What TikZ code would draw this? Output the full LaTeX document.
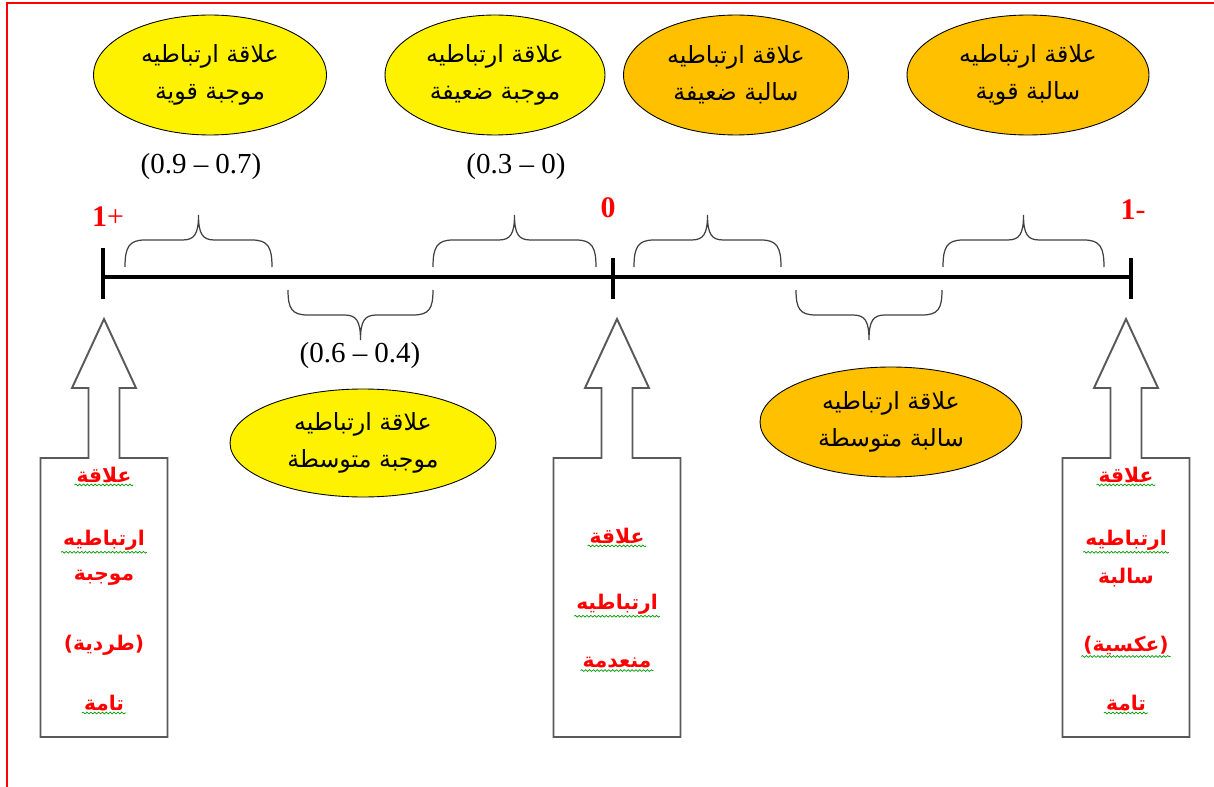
\documentclass[tikz,border=0pt]{standalone}
\usepackage{fontspec}
\setmainfont{Liberation Serif}
\newfontfamily\arabicfont[Script=Arabic]{DejaVu Sans}
\TeXXeTstate=1
\usetikzlibrary{shapes.geometric}
\usetikzlibrary{decorations.pathmorphing}

\definecolor{amber}{RGB}{255,192,0}
\newcommand{\artext}[1]{\beginR #1\endR}

\begin{document}
\begin{tikzpicture}[
                x={(0.02cm,0cm)}, y={(0cm,-0.02cm)},
                bubble/.style={ellipse, draw=black, line width=0.5pt, inner sep=0pt, align=center,
                    font=\arabicfont\fontsize{13.5}{21}\selectfont},
                interval/.style={font=\fontsize{16.5}{16.5}\selectfont},
                endlabel/.style={text=red, font=\fontsize{17}{17}\selectfont},
                curly/.style={draw=black!75, line width=0.7pt},
                axis/.style={line width=2pt},
                callout/.style={draw=black!65, line width=1.1pt, line join=miter},
                redword/.style={text=red, inner sep=1pt, font=\arabicfont\bfseries\fontsize{11.5}{11.5}\selectfont},
                squiggle/.style={draw=green!60!black, line width=0.4pt, decorate,
                    decoration={snake, amplitude=0.5pt, segment length=2.2pt}} ]

            \useasboundingbox (0,0) rectangle (1214,787);
            \draw[red, line width=0.8pt] (7,787) -- (7,3) -- (1214,3);

            % the line from +1 to -1
            \coordinate (pos) at (103,277);
            \coordinate (zero) at (613,277);
            \coordinate (neg) at (1131,277);
            \draw[axis] (pos) -- (neg);
            \foreach \x/\t in {103/248, 613/258, 1131/258} {
                    \draw[axis] (\x,\t) -- (\x,299);
                }

            \node[endlabel] (plusone) at (108,217) {\textbf{1}+};
            \node[endlabel] (nought) at (608,208) {\textbf{0}};
            \node[endlabel] (minusone) at (1133,210) {\textbf{1}-};

            % braces over and under the line
            \foreach \a/\b in {125/272, 433/596, 634/781, 943/1104} {
                    \pgfmathsetmacro{\m}{(\a+\b)/2}
                    \draw[curly] (\a,267) .. controls (\a,247) and (\a+4,240) .. (\a+20,240)
                    -- (\m-16,240) .. controls (\m-4,240) and (\m,234) .. (\m,215)
                    .. controls (\m,234) and (\m+4,240) .. (\m+16,240)
                    -- (\b-20,240) .. controls (\b-4,240) and (\b,247) .. (\b,267);
                }
            \foreach \a/\b in {288/433, 796/942} {
                    \pgfmathsetmacro{\m}{(\a+\b)/2}
                    \draw[curly] (\a,290) .. controls (\a,309) and (\a+4,315) .. (\a+20,315)
                    -- (\m-16,315) .. controls (\m-4,315) and (\m,321) .. (\m,340)
                    .. controls (\m,321) and (\m+4,315) .. (\m+16,315)
                    -- (\b-20,315) .. controls (\b-4,315) and (\b,309) .. (\b,290);
                }

            \node[interval] (strong) at (201,167) {(0.9 -- 0.7)};
            \node[interval] (weak) at (516,167) {(0.3 -- 0)};
            \node[interval] (medium) at (360,356) {(0.6 -- 0.4)};

            \node[bubble, fill=yellow, minimum width=4.66cm, minimum height=2.4cm] (posstrong) at (210,75)
                {\artext{علاقة ارتباطيه}\\\artext{موجبة قوية}};
            \node[bubble, fill=yellow, minimum width=4.4cm, minimum height=2.4cm] (posweak) at (495,75)
                {\artext{علاقة ارتباطيه}\\\artext{موجبة ضعيفة}};
            \node[bubble, fill=amber, minimum width=4.5cm, minimum height=2.4cm] (negweak) at (736,75)
                {\artext{علاقة ارتباطيه}\\\artext{سالبة ضعيفة}};
            \node[bubble, fill=amber, minimum width=4.84cm, minimum height=2.4cm] (negstrong) at (1028,75)
                {\artext{علاقة ارتباطيه}\\\artext{سالبة قوية}};
            \node[bubble, fill=yellow, minimum width=5.32cm, minimum height=2.16cm] (posmedium) at (363,443)
                {\artext{علاقة ارتباطيه}\\\artext{موجبة متوسطة}};
            \node[bubble, fill=amber, minimum width=5.24cm, minimum height=2.2cm] (negmedium) at (891,422)
                {\artext{علاقة ارتباطيه}\\\artext{سالبة متوسطة}};

            % block arrows pointing at +1, 0 and -1
            \foreach \cx in {104, 617, 1126} {
                    \draw[callout] (\cx-63.5,737) -- (\cx-63.5,458) -- (\cx-15.5,458) -- (\cx-15.5,388)
                    -- (\cx-32,388) -- (\cx,319) -- (\cx+32,388) -- (\cx+15.5,388) -- (\cx+15.5,458)
                    -- (\cx+63.5,458) -- (\cx+63.5,737) -- cycle;
                }

            \node[redword] (pa) at (104,475) {علاقة};
            \node[redword] (pb) at (104,540) {ارتباطيه};
            \node[redword] (pc) at (104,578) {موجبة};
            \node[redword] (pd) at (104,645) {(طردية)};
            \node[redword] (pe) at (104,703) {تامة};

            \node[redword] (za) at (617,536) {علاقة};
            \node[redword] (zb) at (617,604) {ارتباطيه};
            \node[redword] (zc) at (617,663) {منعدمة};

            \node[redword] (na) at (1126,475) {علاقة};
            \node[redword] (nb) at (1126,540) {ارتباطيه};
            \node[redword] (nc) at (1126,578) {سالبة};
            \node[redword] (nd) at (1126,645) {(عكسية)};
            \node[redword] (ne) at (1126,703) {تامة};

            \foreach \w in {pa, pb, pe, za, zb, zc, na, nb, nd, ne} {
                    \draw[squiggle] (\w.south west) -- (\w.south east);
                }
        \end{tikzpicture}
\end{document}
